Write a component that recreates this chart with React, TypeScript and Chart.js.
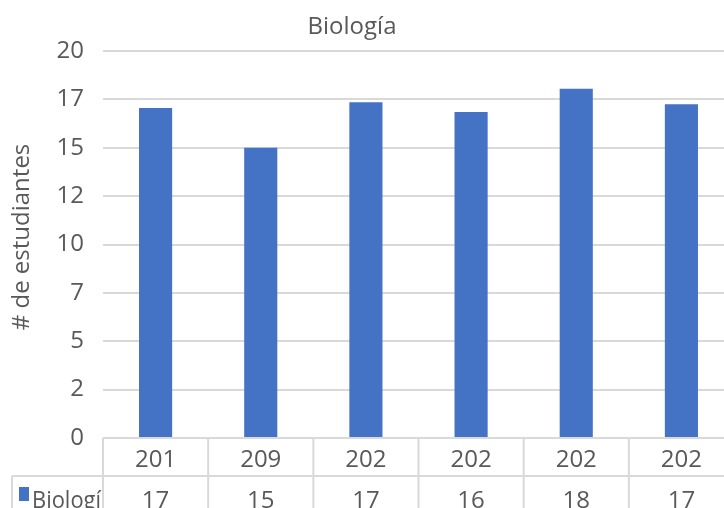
import { useEffect, useRef } from "react";
import { Chart, registerables } from "chart.js";

Chart.register(...registerables);

const chartTitle = "Biología";
const yAxisTitle = "# de estudiantes";
const categories = ["201", "209", "202", "202", "202", "202"];
const seriesName = "Biología";
const legendLabel = "Biologí";
const values = [17.05, 15.0, 17.35, 16.85, 18.05, 17.25];
const yMin = 0;
const yMax = 20;
const yStep = 2.5;

const FONT = "'Open Sans', 'DejaVu Sans', sans-serif";
const TEXT = "#595959";
const GRID = "#d9d9d9";
const BAR = "#4472C4";
const W = 740;
const H = 508;

const tablePlugin = {
  id: "dataTable",
  afterDraw(chart: any) {
    const { ctx } = chart;
    const { left, right, bottom } = chart.chartArea;
    const n = categories.length;
    const cw = (right - left) / n;
    const rowH = 38;
    ctx.save();
    ctx.strokeStyle = GRID;
    ctx.lineWidth = 2;
    const line = (x1: number, y1: number, x2: number, y2: number) => {
      ctx.beginPath();
      ctx.moveTo(x1, y1);
      ctx.lineTo(x2, y2);
      ctx.stroke();
    };
    line(left, bottom, right, bottom);
    line(12, bottom + rowH, right, bottom + rowH);
    for (let i = 0; i <= n; i++) line(left + i * cw, bottom, left + i * cw, H);
    line(12, bottom + rowH, 12, H);

    ctx.fillStyle = TEXT;
    ctx.font = `24px ${FONT}`;
    ctx.textAlign = "center";
    ctx.textBaseline = "middle";
    const xs = chart.scales.x;
    categories.forEach((c, i) => {
      const cx = xs.getPixelForValue(i);
      ctx.fillText(c, cx, bottom + rowH / 2 + 3);
      ctx.fillText(String(Math.floor(values[i])), cx, bottom + rowH + rowH / 2 + 6);
    });
    // legend key + label
    ctx.fillStyle = BAR;
    ctx.fillRect(19, bottom + 49, 10, 14);
    ctx.fillStyle = TEXT;
    ctx.textAlign = "left";
    ctx.fillText(legendLabel, 32, bottom + rowH + rowH / 2 + 6, 69);

    // chart title
    ctx.font = `24px ${FONT}`;
    ctx.textAlign = "center";
    ctx.fillText(chartTitle, 352, 27);

    // y-axis title
    ctx.font = `24px ${FONT}`;
    ctx.translate(22, 237);
    ctx.rotate(-Math.PI / 2);
    ctx.fillText(yAxisTitle, 0, 0);
    ctx.restore();
  },
};

export default function App() {
  const ref = useRef<HTMLCanvasElement | null>(null);
  useEffect(() => {
    document.body.style.margin = "0";
    if (!ref.current) return;
    const chart = new Chart(ref.current, {
      type: "bar",
      data: {
        labels: categories,
        datasets: [
          {
            label: seriesName,
            data: values,
            backgroundColor: BAR,
            categoryPercentage: 1,
            barPercentage: 0.315,
          },
        ],
      },
      options: {
        animation: false,
        responsive: false,
        devicePixelRatio: 1,
        layout: { padding: { left: 0, right: 6, top: 51, bottom: 70 } },
        plugins: {
          legend: { display: false },
          title: { display: false },
          tooltip: { enabled: false },
        },
        scales: {
          x: { display: false },
          y: {
            min: yMin,
            max: yMax,
            border: { display: false },
            grid: { color: GRID, lineWidth: 2, drawTicks: false },
            ticks: {
              stepSize: yStep,
              padding: 19,
              color: TEXT,
              font: { family: FONT, size: 24 },
              callback: (v: any) => String(Math.floor(Number(v))),
            },
            afterFit: (scale: any) => {
              scale.width = 103;
            },
          },
        },
      },
      plugins: [tablePlugin],
    });
    return () => chart.destroy();
  }, []);
  return (
    <div style={{ width: 724, height: 508, overflow: "hidden", background: "#fff" }}>
      <canvas ref={ref} width={W} height={H} style={{ width: W, height: H, display: "block" }} />
    </div>
  );
}
